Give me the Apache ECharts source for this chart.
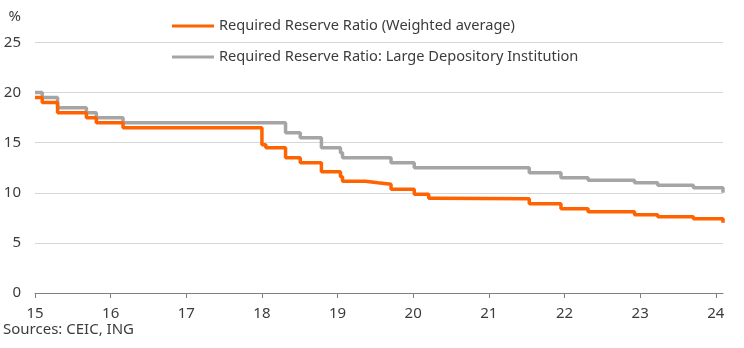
<!DOCTYPE html>
<html>
<head>
<meta charset="utf-8">
<script src="https://cdn.jsdelivr.net/npm/echarts@6/dist/echarts.min.js"></script>
<style>
  html, body { margin: 0; padding: 0; background: #ffffff; }
  #chart { width: 744px; height: 348px; }
</style>
</head>
<body>
<div id="chart"></div>
<script>
// Required reserve ratio, large depository institutions (%), effective dates
const largeDates = [
  '2015-01-01', '2015-02-05', '2015-04-20', '2015-09-06', '2015-10-24',
  '2016-03-01', '2018-04-25', '2018-07-05', '2018-10-15', '2019-01-15',
  '2019-01-25', '2019-09-16', '2020-01-06', '2021-07-15', '2021-12-15',
  '2022-04-25', '2022-12-05', '2023-03-27', '2023-09-15', '2024-02-05'
];
const largeRates = [
  20.0, 19.5, 18.5, 18.0, 17.5,
  17.0, 16.0, 15.5, 14.5, 14.0,
  13.5, 13.0, 12.5, 12.0, 11.5,
  11.25, 11.0, 10.75, 10.5, 10.0
];

// Required reserve ratio, weighted average (%), effective dates
const avgDates = [
  '2015-01-01', '2015-02-05', '2015-04-20', '2015-09-06', '2015-10-24',
  '2016-03-01', '2018-01-01', '2018-01-20', '2018-04-25', '2018-07-05',
  '2018-10-15', '2019-01-15', '2019-01-25', '2019-05-15', '2019-07-15',
  '2019-09-16', '2020-01-06', '2020-03-16', '2020-04-15', '2021-07-15',
  '2021-12-15', '2022-04-25', '2022-12-05', '2023-03-27', '2023-09-15',
  '2024-02-05'
];
const avgRates = [
  19.5, 19.0, 18.0, 17.5, 17.0,
  16.5, 14.8, 14.5, 13.5, 13.0,
  12.1, 11.6, 11.15, 11.0, 10.85,
  10.35, 9.85, 9.45, 9.4, 8.9,
  8.4, 8.1, 7.8, 7.6, 7.4,
  7.0
];

// Year tick labels (two-digit years) and the last date shown
const yearTicks = [15, 16, 17, 18, 19, 20, 21, 22, 23, 24];
const axisEndDate = '2024-02-05';

const seriesNames = [
  'Required Reserve Ratio (Weighted average)',
  'Required Reserve Ratio: Large Depository Institution'
];

// Convert an ISO date to a fractional two-digit year, e.g. 2018-07-01 -> 18.5
function toYearValue(iso) {
  const [y, m, d] = iso.split('-').map(Number);
  const start = Date.UTC(y, 0, 1);
  const next = Date.UTC(y + 1, 0, 1);
  return (y - 2000) + (Date.UTC(y, m - 1, d) - start) / (next - start);
}

function pairs(dates, values) {
  return dates.map((d, i) => [toYearValue(d), values[i]]);
}

const FONT = '"Noto Sans", sans-serif';
const TEXT = '#3c3c3c';

const legendBase = {
  left: 172, padding: 0,
  icon: 'rect', itemWidth: 42, itemHeight: 3,
  textStyle: { fontFamily: FONT, fontSize: 14.6, color: TEXT, lineHeight: 18 },
  selectedMode: false
};

const chart = echarts.init(document.getElementById('chart'), null, { renderer: 'canvas' });

chart.setOption({
  animation: false,
  backgroundColor: '#ffffff',
  grid: { left: 35, right: 21, top: 42.5, bottom: 55 },
  legend: [
    Object.assign({}, legendBase, { data: [seriesNames[0]], top: 17 }),
    Object.assign({}, legendBase, { data: [seriesNames[1]], top: 48 })
  ],
  xAxis: {
    type: 'value',
    min: 15,
    max: toYearValue(axisEndDate),
    interval: 1,
    splitLine: { show: false },
    axisLine: { show: true, lineStyle: { color: '#808080', width: 1 } },
    axisTick: { show: true, customValues: yearTicks, length: 5, lineStyle: { color: '#808080' } },
    axisLabel: {
      customValues: yearTicks,
      formatter: v => String(v),
      fontFamily: FONT, fontSize: 15, color: TEXT, margin: 13
    }
  },
  yAxis: {
    type: 'value',
    min: 0, max: 25, interval: 5,
    axisLine: { show: false },
    axisTick: { show: false },
    splitLine: { lineStyle: { color: '#d6d6d6', width: 1 } },
    axisLabel: { fontFamily: FONT, fontSize: 15, color: TEXT, margin: 14 }
  },
  graphic: [
    {
      type: 'text', right: 723, top: 9,
      style: { text: '%', fontFamily: FONT, fontSize: 15, fill: TEXT }
    },
    {
      type: 'text', left: 3, top: 322,
      style: { text: 'Sources: CEIC, ING', fontFamily: FONT, fontSize: 15, fill: TEXT }
    }
  ],
  series: [
    {
      name: seriesNames[0],
      type: 'line',
      step: 'end',
      showSymbol: false,
      z: 3,
      color: '#ff6200',
      lineStyle: { color: '#ff6200', width: 3.5 },
      data: pairs(avgDates, avgRates)
    },
    {
      name: seriesNames[1],
      type: 'line',
      step: 'end',
      showSymbol: false,
      z: 2,
      color: '#a5a5a5',
      lineStyle: { color: '#a5a5a5', width: 3.5 },
      data: pairs(largeDates, largeRates)
    }
  ]
});
</script>
</body>
</html>
